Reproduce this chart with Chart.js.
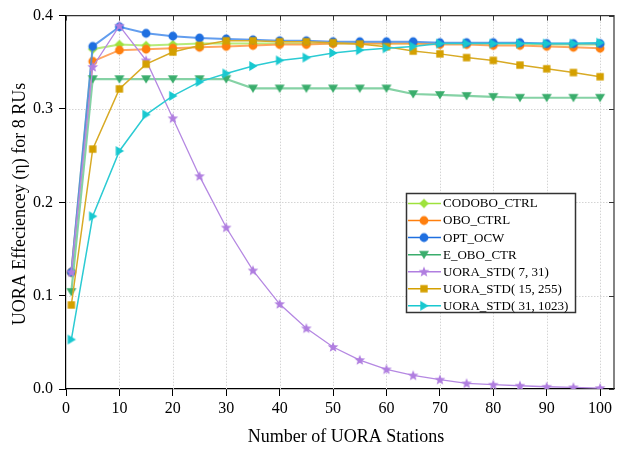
<!DOCTYPE html>
<html>
<head>
<meta charset="utf-8">
<script src="https://cdn.jsdelivr.net/npm/chart.js@4/dist/chart.umd.min.js"></script>
<style>
  html, body { margin: 0; padding: 0; background: #fff; }
  canvas { display: block; }
</style>
</head>
<body>
<canvas id="chart" width="625" height="451"></canvas>
<script>
// Number of UORA stations
const stations = [1, 5, 10, 15, 20, 25, 30, 35, 40, 45, 50, 55, 60, 65, 70, 75, 80, 85, 90, 95, 100];

// UORA efficiency per scheme
const codoboCtrl = [0.125, 0.364, 0.369, 0.368, 0.369, 0.370, 0.370, 0.370, 0.370, 0.370, 0.370, 0.370, 0.370, 0.370, 0.370, 0.370, 0.370, 0.370, 0.369, 0.369, 0.369];
const oboCtrl    = [0.125, 0.351, 0.363, 0.364, 0.365, 0.366, 0.367, 0.368, 0.369, 0.369, 0.370, 0.370, 0.370, 0.370, 0.369, 0.369, 0.368, 0.368, 0.367, 0.366, 0.365];
const optOcw     = [0.125, 0.367, 0.388, 0.381, 0.378, 0.376, 0.375, 0.374, 0.373, 0.373, 0.372, 0.372, 0.372, 0.372, 0.371, 0.371, 0.371, 0.371, 0.370, 0.370, 0.370];
const eOboCtr    = [0.104, 0.332, 0.332, 0.332, 0.332, 0.332, 0.332, 0.322, 0.322, 0.322, 0.322, 0.322, 0.322, 0.316, 0.315, 0.314, 0.313, 0.312, 0.312, 0.312, 0.312];
const uoraStd7   = [0.125, 0.345, 0.389, 0.352, 0.290, 0.228, 0.173, 0.127, 0.091, 0.065, 0.045, 0.031, 0.021, 0.0145, 0.010, 0.006, 0.0046, 0.0035, 0.0024, 0.0017, 0.001];
const uoraStd15  = [0.090, 0.257, 0.3215, 0.348, 0.361, 0.368, 0.373, 0.373, 0.372, 0.372, 0.371, 0.3695, 0.3667, 0.362, 0.359, 0.355, 0.352, 0.347, 0.343, 0.339, 0.3345];
const uoraStd31  = [0.053, 0.185, 0.255, 0.294, 0.314, 0.329, 0.338, 0.346, 0.352, 0.355, 0.360, 0.363, 0.365, 0.367, 0.370, 0.370, 0.370, 0.370, 0.370, 0.370, 0.371];

const seriesNames = ['CODOBO_CTRL', 'OBO_CTRL', 'OPT_OCW', 'E_OBO_CTR', 'UORA_STD( 7, 31)', 'UORA_STD( 15, 255)', 'UORA_STD( 31, 1023)'];

// Tick labels
const xTicks = [0, 10, 20, 30, 40, 50, 60, 70, 80, 90, 100];
const yTicks = [0.0, 0.1, 0.2, 0.3, 0.4];

const FONT = '"Liberation Serif", "Times New Roman", serif';

// Marker sprites
function makeMarker(shape, color) {
  const s = 12;
  const c = document.createElement('canvas');
  c.width = s; c.height = s;
  const g = c.getContext('2d');
  const m = s / 2;
  g.fillStyle = color;
  g.beginPath();
  if (shape === 'diamond') {
    g.moveTo(m, m - 4.8); g.lineTo(m + 4.8, m); g.lineTo(m, m + 4.8); g.lineTo(m - 4.8, m);
  } else if (shape === 'circle') {
    g.arc(m, m, 4.4, 0, Math.PI * 2);
  } else if (shape === 'down') {
    g.moveTo(m - 5, m - 3.7); g.lineTo(m + 5, m - 3.7); g.lineTo(m, m + 4.6);
  } else if (shape === 'star') {
    for (let i = 0; i < 10; i++) {
      const r = i % 2 === 0 ? 5.6 : 2.4;
      const a = -Math.PI / 2 + i * Math.PI / 5;
      const px = m + r * Math.cos(a), py = m + 0.3 + r * Math.sin(a);
      if (i === 0) g.moveTo(px, py); else g.lineTo(px, py);
    }
  } else if (shape === 'square') {
    g.rect(m - 3.7, m - 3.7, 7.4, 7.4);
  } else if (shape === 'right') {
    g.moveTo(m - 3.7, m - 5); g.lineTo(m + 4.6, m); g.lineTo(m - 3.7, m + 5);
  }
  g.closePath();
  g.fill();
  return c;
}

const styles = [
  { color: '#9ee23c', line: 'rgba(170,232,100,0.85)', shape: 'diamond', width: 2 },
  { color: '#ff7f0e', line: 'rgba(255,150,70,0.85)', shape: 'circle', width: 2 },
  { color: '#1f6fe0', line: 'rgba(70,140,235,0.85)', shape: 'circle', width: 2 },
  { color: '#3aad6c', line: 'rgba(120,205,155,0.9)', shape: 'down', width: 2.2 },
  { color: '#b07ee0', line: '#b588e2', shape: 'star', width: 1.3 },
  { color: '#d4a000', line: '#d8aa25', shape: 'square', width: 1.5 },
  { color: '#18c8d0', line: '#2ccbd3', shape: 'right', width: 1.5 }
];
const values = [codoboCtrl, oboCtrl, optOcw, eOboCtr, uoraStd7, uoraStd15, uoraStd31];
const markers = styles.map(s => makeMarker(s.shape, s.color));

const datasets = values.map((vals, i) => ({
  label: seriesNames[i],
  data: stations.map((x, k) => ({ x: x, y: vals[k] })),
  borderColor: styles[i].line,
  backgroundColor: styles[i].color,
  borderWidth: styles[i].width,
  pointStyle: markers[i],
  pointRadius: 5,
  pointHoverRadius: 5,
  tension: 0,
  fill: false,
  order: values.length - 1 - i
}));

// Dotted grid, framed box with inner ticks, axis titles and legend box
const decorations = {
  id: 'decorations',
  beforeDatasetsDraw(chart) {
    const { ctx, chartArea: a, scales } = chart;
    ctx.save();
    ctx.strokeStyle = '#d4d4d4';
    ctx.lineWidth = 1;
    ctx.setLineDash([1.5, 1.5]);
    xTicks.forEach(v => {
      if (v === 0) return;
      const px = Math.round(scales.x.getPixelForValue(v)) + 0.5;
      ctx.beginPath(); ctx.moveTo(px, a.top); ctx.lineTo(px, a.bottom); ctx.stroke();
    });
    yTicks.forEach(v => {
      if (v === 0 || v === 0.4) return;
      const py = Math.round(scales.y.getPixelForValue(v)) + 0.5;
      ctx.beginPath(); ctx.moveTo(a.left, py); ctx.lineTo(a.right, py); ctx.stroke();
    });
    ctx.restore();
  },
  afterDraw(chart) {
    const { ctx, chartArea: a, scales } = chart;
    ctx.save();
    // frame (top and right) with inward ticks
    ctx.strokeStyle = '#333';
    ctx.lineWidth = 1.2;
    ctx.beginPath();
    ctx.moveTo(a.left, a.top); ctx.lineTo(a.right, a.top); ctx.lineTo(a.right, a.bottom);
    ctx.stroke();
    ctx.lineWidth = 1;
    xTicks.forEach(v => {
      const px = Math.round(scales.x.getPixelForValue(v)) + 0.5;
      ctx.beginPath(); ctx.moveTo(px, a.top); ctx.lineTo(px, a.top + 5); ctx.stroke();
    });
    yTicks.forEach(v => {
      const py = Math.round(scales.y.getPixelForValue(v)) + 0.5;
      ctx.beginPath(); ctx.moveTo(a.right, py); ctx.lineTo(a.right - 5, py); ctx.stroke();
    });

    // axis titles
    ctx.fillStyle = '#000';
    ctx.textAlign = 'center';
    ctx.textBaseline = 'middle';
    ctx.font = '18px ' + FONT;
    ctx.fillText('Number of UORA Stations', 346, 437);
    ctx.save();
    ctx.translate(20, 204);
    ctx.rotate(-Math.PI / 2);
    ctx.fillText('UORA Effeciencey (\u03b7) for 8 RUs', 0, 0);
    ctx.restore();

    // legend
    const bx = 406.5, by = 193.5, bw = 169, bh = 119;
    ctx.fillStyle = '#fff';
    ctx.fillRect(bx, by, bw, bh);
    ctx.strokeStyle = '#333';
    ctx.lineWidth = 1.5;
    ctx.strokeRect(bx, by, bw, bh);
    ctx.font = '13px ' + FONT;
    ctx.textAlign = 'left';
    ctx.textBaseline = 'middle';
    seriesNames.forEach((name, i) => {
      const y = 203.5 + i * 17.05;
      ctx.strokeStyle = styles[i].color;
      ctx.lineWidth = 1.5;
      ctx.beginPath(); ctx.moveTo(408, y); ctx.lineTo(441, y); ctx.stroke();
      ctx.drawImage(markers[i], 424 - markers[i].width / 2, y - markers[i].height / 2);
      ctx.fillStyle = '#000';
      ctx.fillText(name, 443, y + 0.5);
    });
    ctx.restore();
  }
};

new Chart(document.getElementById('chart'), {
  type: 'line',
  data: { datasets: datasets },
  options: {
    responsive: false,
    animation: false,
    events: [],
    layout: { padding: { top: 12, right: 11, left: 0, bottom: 0 } },
    plugins: { legend: { display: false }, tooltip: { enabled: false } },
    scales: {
      x: {
        type: 'linear',
        min: 0,
        max: 102.6,
        afterBuildTicks: s => { s.ticks = xTicks.map(v => ({ value: v })); },
        afterFit: s => { s.height = 62; },
        ticks: {
          includeBounds: false,
          maxRotation: 0,
          autoSkip: false,
          padding: 3,
          color: '#000',
          font: { family: FONT, size: 16 },
          callback: v => String(v)
        },
        grid: { drawOnChartArea: false, drawTicks: true, tickLength: 7, tickColor: '#000', tickWidth: 1 },
        border: { display: true, color: '#000', width: 1.2 }
      },
      y: {
        type: 'linear',
        min: 0,
        max: 0.4,
        afterBuildTicks: s => { s.ticks = yTicks.map(v => ({ value: v })); },
        afterFit: s => { s.width = 66; },
        ticks: {
          includeBounds: false,
          autoSkip: false,
          padding: 6,
          color: '#000',
          font: { family: FONT, size: 16 },
          callback: v => Number(v).toFixed(1)
        },
        grid: { drawOnChartArea: false, drawTicks: true, tickLength: 7, tickColor: '#000', tickWidth: 1 },
        border: { display: true, color: '#000', width: 1.2 }
      }
    }
  },
  plugins: [decorations]
});
</script>
</body>
</html>
